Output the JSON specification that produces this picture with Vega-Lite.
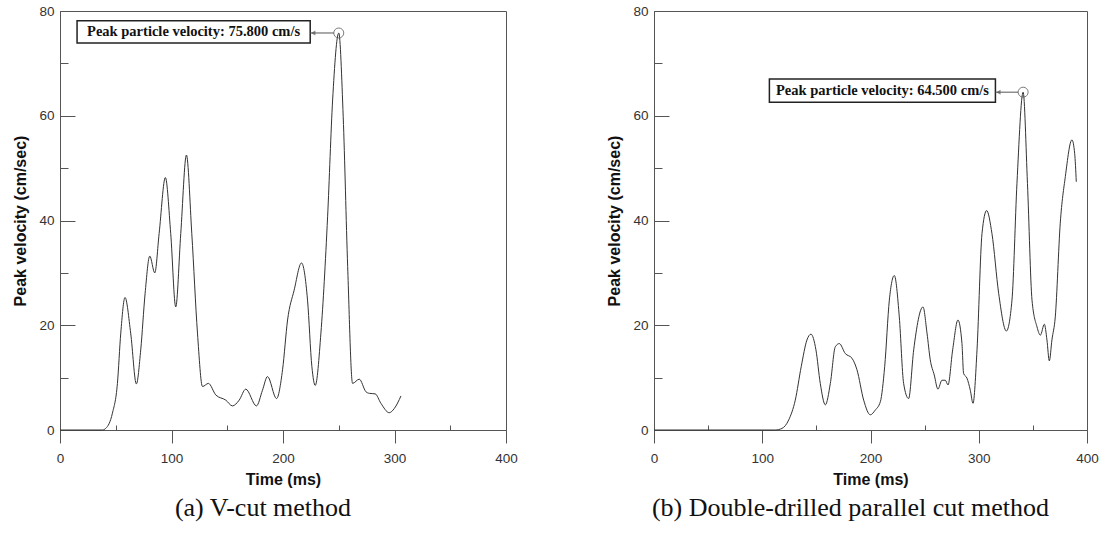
{
  "$schema": "https://vega.github.io/schema/vega-lite/v6.json",
  "background": "white",
  "padding": {"left": 12, "top": 3, "right": 5, "bottom": 5},
  "spacing": 88,
  "config": {
    "view": {"stroke": "#555", "strokeWidth": 1},
    "axis": {
      "domainColor": "#555", "tickColor": "#555", "labelColor": "#333",
      "labelFont": "Liberation Sans", "labelFontSize": 13.5, "labelFlush": false,
      "titleFont": "Liberation Sans", "titleFontSize": 16, "titleFontWeight": "bold", "titleColor": "#111",
      "grid": false
    },
    "title": {"font": "Liberation Serif", "fontSize": 26, "fontWeight": "normal", "color": "#111", "orient": "bottom"}
  },
  "datasets": {
    "left": [
      {"t": 0, "v": 0}, {"t": 38, "v": 0}, {"t": 41, "v": 0.3}, {"t": 47, "v": 3.2}, {"t": 51.5, "v": 8.9}, {"t": 54.5, "v": 18.5},
      {"t": 58.3, "v": 25.3}, {"t": 63.4, "v": 18.5}, {"t": 68.5, "v": 8.8}, {"t": 72.4, "v": 15.3}, {"t": 76.3, "v": 26},
      {"t": 80.5, "v": 33.2}, {"t": 85, "v": 30.0}, {"t": 88.9, "v": 37.5}, {"t": 94.5, "v": 48.2}, {"t": 99.3, "v": 37.5},
      {"t": 103.8, "v": 23.5}, {"t": 108.3, "v": 37.5}, {"t": 113.4, "v": 52.5}, {"t": 118.2, "v": 37.5}, {"t": 123.3, "v": 18.5},
      {"t": 127.8, "v": 8.3}, {"t": 133.1, "v": 8.9}, {"t": 139.7, "v": 6.7}, {"t": 148.7, "v": 5.7}, {"t": 154.7, "v": 4.6},
      {"t": 160.7, "v": 5.7}, {"t": 166.6, "v": 7.8}, {"t": 176.2, "v": 4.6}, {"t": 181.6, "v": 7.6}, {"t": 186.1, "v": 10.2},
      {"t": 194.2, "v": 6.0}, {"t": 199.6, "v": 11.5}, {"t": 204.1, "v": 21}, {"t": 210, "v": 26.7}, {"t": 216.6, "v": 31.9},
      {"t": 222, "v": 24.8}, {"t": 225.9, "v": 12.1}, {"t": 228.9, "v": 8.5}, {"t": 234, "v": 18.5}, {"t": 240, "v": 40.7},
      {"t": 244.5, "v": 63}, {"t": 250, "v": 75.8}, {"t": 254, "v": 59.8}, {"t": 258, "v": 31.2}, {"t": 262.4, "v": 8.9},
      {"t": 268.4, "v": 9.7}, {"t": 274.4, "v": 7.3}, {"t": 277.4, "v": 7.0}, {"t": 282.7, "v": 6.9}, {"t": 287.8, "v": 5.1},
      {"t": 295.3, "v": 3.3}, {"t": 299.8, "v": 4.1}, {"t": 305.8, "v": 6.5}
    ],
    "right": [
      {"t": 0, "v": 0}, {"t": 112, "v": 0}, {"t": 118.2, "v": 0.3}, {"t": 124.4, "v": 1.9}, {"t": 130.5, "v": 5.7}, {"t": 136, "v": 12.1},
      {"t": 141.3, "v": 17.2}, {"t": 145, "v": 18.3}, {"t": 149.6, "v": 15.3}, {"t": 153.6, "v": 8.9}, {"t": 158.3, "v": 4.8},
      {"t": 162.9, "v": 8.9}, {"t": 167.5, "v": 15.9}, {"t": 171.2, "v": 16.5}, {"t": 176.7, "v": 14.6}, {"t": 182.9, "v": 13.7},
      {"t": 187.5, "v": 11.5}, {"t": 193.7, "v": 5.7}, {"t": 199.8, "v": 2.9}, {"t": 204.4, "v": 3.8}, {"t": 209.1, "v": 5.4},
      {"t": 213.1, "v": 12.1}, {"t": 217.4, "v": 24.8}, {"t": 222, "v": 29.5}, {"t": 226.6, "v": 21.6}, {"t": 230.6, "v": 8.9},
      {"t": 235.2, "v": 6.0}, {"t": 239.9, "v": 15.3}, {"t": 248.5, "v": 23.5}, {"t": 252.2, "v": 18.5}, {"t": 255.2, "v": 13.4},
      {"t": 258.9, "v": 10.5}, {"t": 262.3, "v": 7.8}, {"t": 266, "v": 9.5}, {"t": 269.1, "v": 9.5}, {"t": 271.6, "v": 8.6},
      {"t": 275.9, "v": 15.3}, {"t": 280.8, "v": 21.0}, {"t": 284.5, "v": 16.5}, {"t": 286, "v": 10.8}, {"t": 289.1, "v": 9.9},
      {"t": 292.2, "v": 7.6}, {"t": 294.7, "v": 5.1}, {"t": 298.4, "v": 15.3}, {"t": 303, "v": 37.5}, {"t": 307.3, "v": 41.9},
      {"t": 312.2, "v": 37.5}, {"t": 318.4, "v": 26.1}, {"t": 325.5, "v": 18.9}, {"t": 330.7, "v": 24.8}, {"t": 335.3, "v": 47.1},
      {"t": 341, "v": 64.5}, {"t": 345, "v": 47.1}, {"t": 349.2, "v": 24.8}, {"t": 353.8, "v": 19.7}, {"t": 356.9, "v": 18.1},
      {"t": 360.6, "v": 20.2}, {"t": 363, "v": 17.2}, {"t": 365.2, "v": 13.2}, {"t": 367.6, "v": 17.2}, {"t": 370.7, "v": 21.6},
      {"t": 375.3, "v": 39.5}, {"t": 380, "v": 48.4}, {"t": 386.1, "v": 55.4}, {"t": 388.6, "v": 52.8}, {"t": 390.1, "v": 47.4}
    ],
    "annoL": [{"x1": 15.3, "x2": 224.4, "y1": 78.15, "y2": 73.9, "tx": 119.8, "ty": 76, "px": 250, "py": 75.8, "ax": 245.5, "label": "Peak particle velocity: 75.800 cm/s"}],
    "annoR": [{"x1": 106.6, "x2": 315.4, "y1": 67.0, "y2": 62.6, "tx": 211, "ty": 64.8, "px": 341, "py": 64.5, "ax": 336.3, "label": "Peak particle velocity: 64.500 cm/s"}]
  },
  "hconcat": [
    {
      "width": 446, "height": 419,
      "title": {"text": "(a) V-cut method", "dx": -20, "offset": 7},
      "layer": [
        {
          "data": {"name": "left"},
          "mark": {"type": "line", "interpolate": "monotone", "color": "#333", "strokeWidth": 1},
          "encoding": {
            "x": {"field": "t", "type": "quantitative", "scale": {"domain": [0, 400], "nice": false},
              "axis": {"title": "Time (ms)", "values": [0, 50, 100, 150, 200, 250, 300, 350, 400],
                "tickSize": {"condition": {"test": "datum.value % 100 === 0", "value": 13}, "value": -5},
                "labelExpr": "datum.value % 100 === 0 ? datum.label : ''", "labelPadding": 8, "titlePadding": 7}},
            "y": {"field": "v", "type": "quantitative", "scale": {"domain": [0, 80], "nice": false},
              "axis": {"title": "Peak velocity (cm/sec)", "values": [0, 10, 20, 30, 40, 50, 60, 70, 80],
                "tickSize": {"condition": {"test": "datum.value % 20 === 0", "value": -15}, "value": -8},
                "labelExpr": "datum.value % 20 === 0 ? datum.label : ''", "labelPadding": 21, "titlePadding": 10}}
          }
        },
        {
          "data": {"name": "annoL"},
          "mark": {"type": "rect", "fill": "white", "stroke": "#222", "strokeWidth": 1.5},
          "encoding": {"x": {"field": "x1", "type": "quantitative"}, "x2": {"field": "x2"}, "y": {"field": "y1", "type": "quantitative"}, "y2": {"field": "y2"}}
        },
        {
          "data": {"name": "annoL"},
          "mark": {"type": "text", "font": "Liberation Serif", "fontSize": 14.5, "fontWeight": "bold", "color": "#111", "baseline": "middle", "align": "center"},
          "encoding": {"x": {"field": "tx", "type": "quantitative"}, "y": {"field": "ty", "type": "quantitative"}, "text": {"field": "label"}}
        },
        {
          "data": {"name": "annoL"},
          "mark": {"type": "rule", "color": "#555", "strokeWidth": 1},
          "encoding": {"x": {"field": "x2", "type": "quantitative"}, "x2": {"field": "ax"}, "y": {"field": "py", "type": "quantitative"}}
        },
        {
          "data": {"name": "annoL"},
          "mark": {"type": "point", "shape": "triangle-left", "filled": true, "color": "#555", "size": 25, "xOffset": 3},
          "encoding": {"x": {"field": "x2", "type": "quantitative"}, "y": {"field": "py", "type": "quantitative"}}
        },
        {
          "data": {"name": "annoL"},
          "mark": {"type": "point", "shape": "circle", "filled": false, "color": "#444", "size": 100, "strokeWidth": 1},
          "encoding": {"x": {"field": "px", "type": "quantitative"}, "y": {"field": "py", "type": "quantitative"}}
        }
      ]
    },
    {
      "width": 433, "height": 419,
      "title": {"text": "(b) Double-drilled parallel cut method", "dx": -20, "offset": 7},
      "layer": [
        {
          "data": {"name": "right"},
          "mark": {"type": "line", "interpolate": "monotone", "color": "#333", "strokeWidth": 1},
          "encoding": {
            "x": {"field": "t", "type": "quantitative", "scale": {"domain": [0, 400], "nice": false},
              "axis": {"title": "Time (ms)", "values": [0, 50, 100, 150, 200, 250, 300, 350, 400],
                "tickSize": {"condition": {"test": "datum.value % 100 === 0", "value": 13}, "value": -5},
                "labelExpr": "datum.value % 100 === 0 ? datum.label : ''", "labelPadding": 8, "titlePadding": 7}},
            "y": {"field": "v", "type": "quantitative", "scale": {"domain": [0, 80], "nice": false},
              "axis": {"title": "Peak velocity (cm/sec)", "values": [0, 10, 20, 30, 40, 50, 60, 70, 80],
                "tickSize": {"condition": {"test": "datum.value % 20 === 0", "value": -15}, "value": -8},
                "labelExpr": "datum.value % 20 === 0 ? datum.label : ''", "labelPadding": 21, "titlePadding": 10}}
          }
        },
        {
          "data": {"name": "annoR"},
          "mark": {"type": "rect", "fill": "white", "stroke": "#222", "strokeWidth": 1.5},
          "encoding": {"x": {"field": "x1", "type": "quantitative"}, "x2": {"field": "x2"}, "y": {"field": "y1", "type": "quantitative"}, "y2": {"field": "y2"}}
        },
        {
          "data": {"name": "annoR"},
          "mark": {"type": "text", "font": "Liberation Serif", "fontSize": 14.5, "fontWeight": "bold", "color": "#111", "baseline": "middle", "align": "center"},
          "encoding": {"x": {"field": "tx", "type": "quantitative"}, "y": {"field": "ty", "type": "quantitative"}, "text": {"field": "label"}}
        },
        {
          "data": {"name": "annoR"},
          "mark": {"type": "rule", "color": "#555", "strokeWidth": 1},
          "encoding": {"x": {"field": "x2", "type": "quantitative"}, "x2": {"field": "ax"}, "y": {"field": "py", "type": "quantitative"}}
        },
        {
          "data": {"name": "annoR"},
          "mark": {"type": "point", "shape": "triangle-left", "filled": true, "color": "#555", "size": 25, "xOffset": 3},
          "encoding": {"x": {"field": "x2", "type": "quantitative"}, "y": {"field": "py", "type": "quantitative"}}
        },
        {
          "data": {"name": "annoR"},
          "mark": {"type": "point", "shape": "circle", "filled": false, "color": "#444", "size": 100, "strokeWidth": 1},
          "encoding": {"x": {"field": "px", "type": "quantitative"}, "y": {"field": "py", "type": "quantitative"}}
        }
      ]
    }
  ]
}
